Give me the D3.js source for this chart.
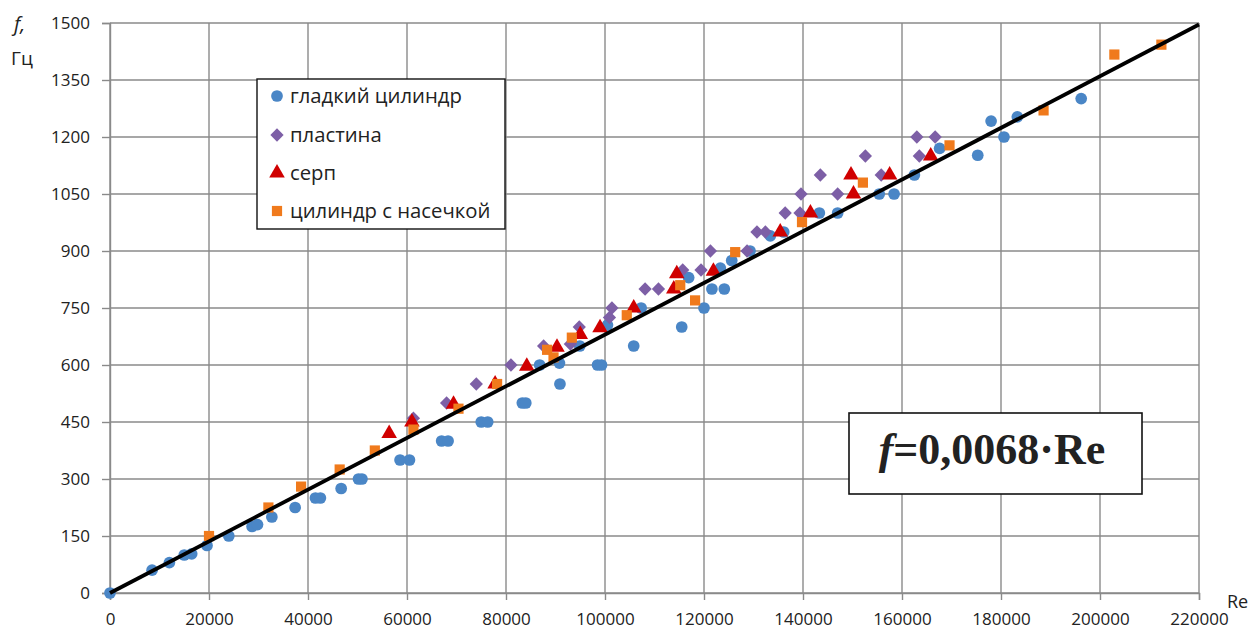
<!DOCTYPE html>
<html>
<head>
<meta charset="utf-8">
<script src="https://cdn.jsdelivr.net/npm/d3@7"></script>
<style>
  html, body { margin: 0; padding: 0; background: #fff; }
  svg { display: block; }
  text { font-family: "Open Sans", "Noto Sans", sans-serif; fill: #222; }
</style>
</head>
<body>
<svg id="chart" width="1251" height="630"></svg>
<script>
// Re ticks and frequency ticks
const reTicks = d3.range(0, 220001, 20000);
const fTicks = d3.range(0, 1501, 150);

// Series names
const seriesNames = ["гладкий цилиндр", "пластина", "серп", "цилиндр с насечкой"];

// Smooth cylinder: [Re, f (Hz)]
const smoothCylinder = [
  [0, 0], [8500, 60], [12000, 80], [15000, 100], [16500, 103], [19600, 125],
  [24000, 150], [28700, 175], [29800, 180], [32700, 200], [37400, 225],
  [41500, 250], [42500, 250], [46700, 275], [50200, 300], [50900, 300],
  [58600, 350], [60500, 350], [67000, 400], [68300, 400], [75000, 450],
  [76300, 450], [83300, 500], [84000, 500], [86800, 600], [90800, 605],
  [90900, 550], [94900, 650], [98500, 600], [99300, 600], [100500, 705],
  [105800, 650], [107300, 750], [115500, 700], [116900, 830], [120000, 750],
  [121600, 800], [124100, 800], [123300, 855], [125600, 875], [129300, 900],
  [133400, 940], [136100, 950], [143300, 1000], [147000, 1000], [155400, 1050],
  [158400, 1050], [162500, 1100], [167600, 1170], [175300, 1152], [178000, 1242],
  [180600, 1200], [183300, 1253], [196200, 1301]
];

// Plate
const plate = [
  [61300, 460], [68000, 500], [74000, 550], [81000, 600], [87600, 650],
  [93000, 655], [94800, 700], [100900, 725], [101400, 750], [108100, 800],
  [110800, 800], [115700, 850], [119400, 850], [121300, 900], [128700, 900],
  [130700, 950], [132400, 950], [136400, 1000], [139400, 1000], [139600, 1050],
  [143500, 1100], [147000, 1050], [152600, 1150], [155800, 1100], [163000, 1200],
  [163500, 1150], [166700, 1200]
];

// Sickle
const sickle = [
  [56400, 420], [61000, 450], [69400, 497], [77800, 550], [84200, 597],
  [90300, 647], [95000, 680], [99000, 698], [105800, 750], [113900, 800],
  [114500, 840], [121900, 847], [135400, 950], [141500, 1000], [149700, 1100],
  [150200, 1050], [157500, 1100], [165800, 1150]
];

// Notched cylinder
const notchedCylinder = [
  [20000, 150], [32000, 225], [38600, 280], [46400, 325], [53500, 375],
  [61300, 430], [70400, 485], [78200, 550], [88300, 640], [89600, 620],
  [93300, 672], [104400, 731], [115200, 810], [118200, 770], [126300, 897],
  [139800, 976], [152100, 1080], [169600, 1178], [188600, 1270], [202900, 1417],
  [212400, 1443]
];

// Fit: f = k * Re
const fitCoef = 0.0068;
const fitRange = [0, 220000];

const svg = d3.select("#chart");
const plot = { left: 110, right: 1199, top: 23, bottom: 593 };

const x = d3.scaleLinear().domain([0, 220000]).range([plot.left, plot.right]);
const y = d3.scaleLinear().domain([0, 1500]).range([plot.bottom, plot.top]);

const gridColor = "#8a8a8a";

// Grid
const grid = svg.append("g");
grid.selectAll("line.v").data(reTicks).join("line")
  .attr("x1", d => x(d)).attr("x2", d => x(d))
  .attr("y1", plot.top).attr("y2", plot.bottom)
  .attr("stroke", gridColor).attr("stroke-width", 1.4);
grid.selectAll("line.h").data(fTicks).join("line")
  .attr("x1", plot.left).attr("x2", plot.right)
  .attr("y1", d => y(d)).attr("y2", d => y(d))
  .attr("stroke", gridColor).attr("stroke-width", 1.4);

// Axes
const xAxis = svg.append("g")
  .attr("transform", `translate(0,${plot.bottom})`)
  .call(d3.axisBottom(x).tickValues(reTicks).tickFormat(d3.format("d")).tickSize(7).tickPadding(13));
const yAxis = svg.append("g")
  .attr("transform", `translate(${plot.left},0)`)
  .call(d3.axisLeft(y).tickValues(fTicks).tickFormat(d3.format("d")).tickSize(8).tickPadding(12));
[xAxis, yAxis].forEach(g => {
  g.select(".domain").attr("stroke", gridColor).attr("stroke-width", 1.4);
  g.selectAll(".tick line").attr("stroke", gridColor).attr("stroke-width", 1.4);
  g.selectAll(".tick text").attr("fill", "#222")
    .style("font-family", '"Open Sans", sans-serif').style("font-size", "17px");
});

// Axis titles
svg.append("text").attr("x", 14).attr("y", 31)
  .style("font-size", "20px").style("font-style", "italic").text("f,");
svg.append("text").attr("x", 11).attr("y", 65)
  .style("font-size", "19px").text("Гц");
svg.append("text").attr("x", 1227).attr("y", 608)
  .style("font-size", "18px").text("Re");

// Marker symbols
const colors = ["#4a86c6", "#7d5fa6", "#d00000", "#f07a1c"];
const symbols = [
  d3.symbol().type(d3.symbolCircle).size(108),
  d3.symbol().type(d3.symbolSquare).size(88),
  d3.symbol().type(d3.symbolTriangle).size(105),
  d3.symbol().type(d3.symbolSquare).size(104)
];
const rotations = [0, 45, 0, 0];
const seriesData = [smoothCylinder, plate, sickle, notchedCylinder];

seriesData.forEach((data, i) => {
  svg.append("g").selectAll("path").data(data).join("path")
    .attr("transform", d => `translate(${x(d[0])},${y(d[1])}) rotate(${rotations[i]})`)
    .attr("d", symbols[i]())
    .attr("fill", colors[i]);
});

// Fit line
const line = d3.line().x(d => x(d)).y(d => y(fitCoef * d));
svg.append("path").datum(fitRange)
  .attr("d", line)
  .attr("stroke", "#000").attr("stroke-width", 3.8).attr("fill", "none");

// Legend
const legend = svg.append("g");
legend.append("rect").attr("x", 257).attr("y", 79).attr("width", 248).attr("height", 150)
  .attr("fill", "#fff").attr("stroke", "#111").attr("stroke-width", 1.4);
const rowY = [96, 135, 173, 211];
seriesNames.forEach((name, i) => {
  legend.append("path")
    .attr("transform", `translate(277,${rowY[i]}) rotate(${rotations[i]})`)
    .attr("d", symbols[i]())
    .attr("fill", colors[i]);
  legend.append("text").attr("x", 290).attr("y", rowY[i]).attr("dy", "0.35em")
    .style("font-size", "20.3px").text(name);
});

// Equation box
const eq = svg.append("g");
eq.append("rect").attr("x", 849).attr("y", 413).attr("width", 293).attr("height", 81)
  .attr("fill", "#fff").attr("stroke", "#111").attr("stroke-width", 1.6);
const eqText = eq.append("text").attr("x", 992).attr("y", 464).attr("text-anchor", "middle")
  .style("font-family", '"Liberation Serif", "Times New Roman", serif')
  .style("font-size", "44px").style("font-weight", "bold").attr("fill", "#111");
eqText.append("tspan").style("font-style", "italic").text("f");
eqText.append("tspan").text("=0,0068·Re");
</script>
</body>
</html>
